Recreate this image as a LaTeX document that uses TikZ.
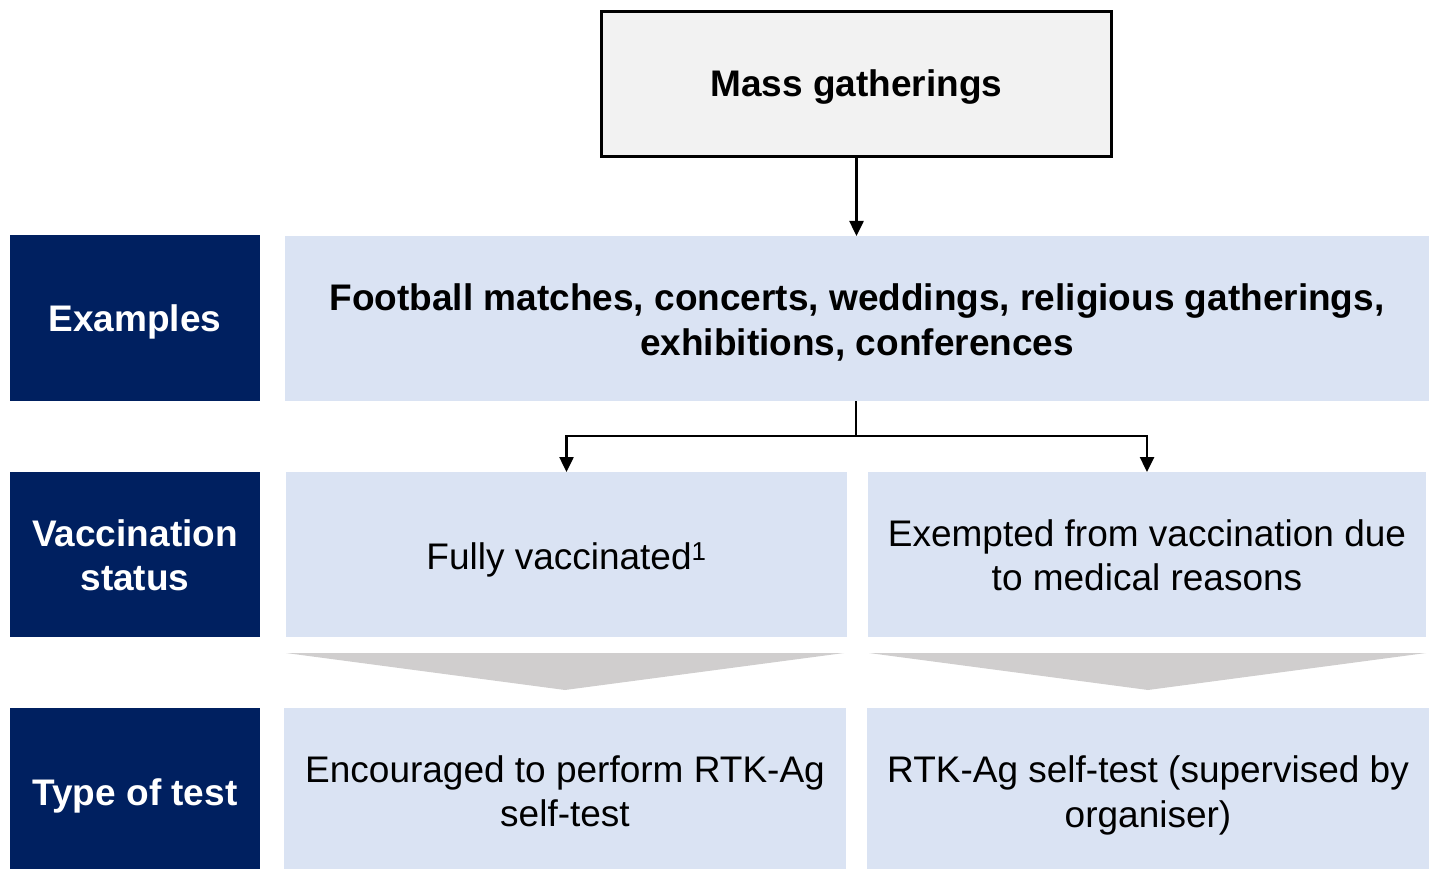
\documentclass[tikz,border=0pt]{standalone}
\usepackage{fontspec}
\setmainfont{Liberation Sans}
\usetikzlibrary{arrows.meta}
\definecolor{navy}{RGB}{0,32,96}
\definecolor{lightblue}{RGB}{218,227,243}
\definecolor{topgray}{RGB}{242,242,242}
\definecolor{chevgray}{RGB}{208,206,206}
\begin{document}
\begin{tikzpicture}[x=1pt,y=-1pt,
  every node/.style={inner sep=0pt,outer sep=0pt,align=center,
    font=\fontsize{37}{44.5}\selectfont},
  boldtext/.style={font=\fontsize{37}{44.5}\selectfont\bfseries},
  labelbox/.style={fill=navy,minimum width=250pt},
  labeltext/.style={text=white,boldtext},
  bluebox/.style={fill=lightblue},
  conn/.style={line width=2.5pt,-{Triangle[width=14pt,length=15pt]}}
]
\useasboundingbox (0,0) rectangle (1432,869);
% top box
\node[draw,line width=3pt,fill=topgray,minimum width=510pt,minimum height=145pt] (top) at (856.5,84) {};
\node[boldtext,yshift=-3pt] (toptext) at (top.center) {Mass gatherings};
% row labels
\node[labelbox,minimum height=166pt] (lab1) at (135,318) {};
\node[labeltext,yshift=-4pt] (lab1text) at (lab1.center) {Examples};
\node[labelbox,minimum height=165pt] (lab2) at (135,554.5) {};
\node[labeltext,yshift=-1pt] (lab2text) at (lab2.center) {Vaccination\\status};
\node[labelbox,minimum height=161pt] (lab3) at (135,788.5) {};
\node[labeltext,yshift=-7pt] (lab3text) at (lab3.center) {Type of test};
% examples
\node[bluebox,minimum width=1144pt,minimum height=165pt] (ex) at (857,318.5) {};
\node[boldtext,yshift=-4pt] (extext) at (ex.center) {Football matches, concerts, weddings, religious gatherings,\\exhibitions, conferences};
% vaccination
\node[bluebox,minimum width=561pt,minimum height=165pt] (v1) at (566.5,554.5) {};
\node[yshift=-5pt] (v1text) at (v1.center) {Fully vaccinated\textsuperscript{1}};
\node[bluebox,minimum width=558pt,minimum height=165pt] (v2) at (1147,554.5) {};
\node[yshift=-1pt] (v2text) at (v2.center) {Exempted from vaccination due\\to medical reasons};
% tests
\node[bluebox,minimum width=562pt,minimum height=161pt] (t1) at (565,788.5) {};
\node[yshift=-3pt] (t1text) at (t1.center) {Encouraged to perform RTK-Ag\\self-test};
\node[bluebox,minimum width=562pt,minimum height=161pt] (t2) at (1148,788.5) {};
\node[yshift=-7pt] (t2text) at (t2.center) {RTK-Ag self-test (supervised by\\organiser)};
% chevrons
\fill[chevgray] (286,653) -- (844,653) -- (565,690) -- cycle;
\fill[chevgray] (869,653) -- (1426,653) -- (1148,690) -- cycle;
% connectors
\draw[conn] (top.south) -- (ex.north -| top.south);
\coordinate (split) at (856,436);
\draw[line width=2.5pt] (ex.south -| split) -- (split);
\draw[conn] (split) -| (v1.north);
\draw[conn] (split) -| (v2.north);
\end{tikzpicture}
\end{document}
